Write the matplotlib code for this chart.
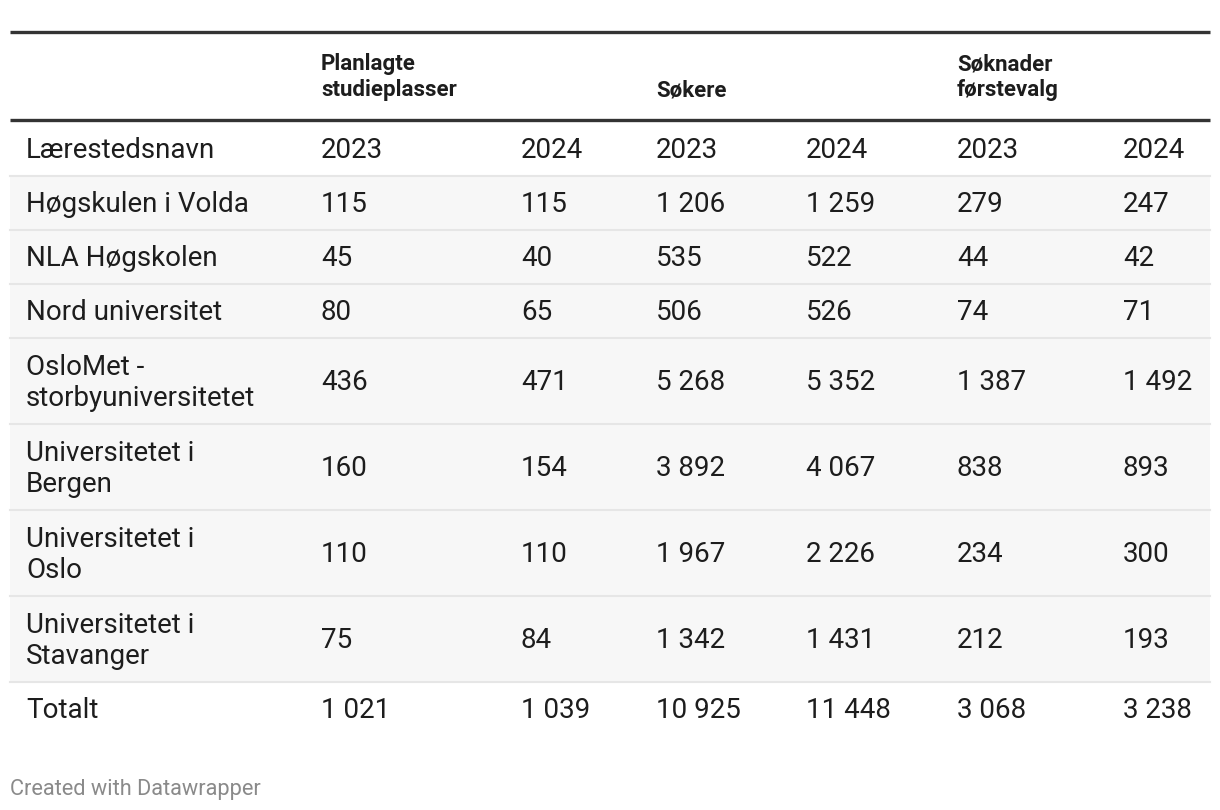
import matplotlib
matplotlib.use("Agg")
import matplotlib.pyplot as plt
from matplotlib.patches import Rectangle

plt.rcParams['font.family'] = ['Roboto', 'DejaVu Sans']

# table content
group_labels = ["Planlagte\nstudieplasser", "Søkere", "Søknader\nførstevalg"]
year_labels = ["2023", "2024", "2023", "2024", "2023", "2024"]
first_col = "Lærestedsnavn"
schools = ["Høgskulen i Volda", "NLA Høgskolen", "Nord universitet",
           "OsloMet -\nstorbyuniversitetet", "Universitetet i\nBergen",
           "Universitetet i\nOslo", "Universitetet i\nStavanger"]
plan_2023 = [115, 45, 80, 436, 160, 110, 75]
plan_2024 = [115, 40, 65, 471, 154, 110, 84]
sokere_2023 = [1206, 535, 506, 5268, 3892, 1967, 1342]
sokere_2024 = [1259, 522, 526, 5352, 4067, 2226, 1431]
forste_2023 = [279, 44, 74, 1387, 838, 234, 212]
forste_2024 = [247, 42, 71, 1492, 893, 300, 193]
totals = [1021, 1039, 10925, 11448, 3068, 3238]

W, H = 1220, 810
fig = plt.figure(figsize=(W / 100, H / 100), dpi=100)
ax = fig.add_axes([0, 0, 1, 1])
ax.set_xlim(0, W)
ax.set_ylim(H, 0)
ax.axis('off')


def fmt(v):
    return f"{v:,}".replace(",", " ")


col_x = [26, 321, 521, 656, 806, 957, 1123]
left, right = 10, 1210
fs = 20
dark = "#1d1d1d"

# header
ax.plot([left, right], [32, 32], color="#333333", lw=2.4, solid_capstyle='butt')
for i, lab in enumerate(group_labels):
    ax.text(col_x[1 + 2 * i], 96, lab, fontsize=16, fontweight='bold',
            color=dark, va='baseline', ha='left', linespacing=1.22)
ax.plot([left, right], [120, 120], color="#333333", lw=2.4, solid_capstyle='butt')

# rows
columns = [plan_2023, plan_2024, sokere_2023, sokere_2024, forste_2023, forste_2024]
rows = [(first_col, year_labels, False)]
for k, name in enumerate(schools):
    rows.append((name, [fmt(c[k]) for c in columns], True))
rows.append(("Totalt", [fmt(v) for v in totals], False))

y = 122
for name, vals, shaded in rows:
    h = 54 if "\n" not in name else 86
    if shaded:
        ax.add_patch(Rectangle((left, y), right - left, h, facecolor="#f7f7f7",
                               edgecolor='none', zorder=0))
    cy = y + h / 2 + 2
    ax.text(col_x[0], cy, name, fontsize=fs, color=dark, va='center',
            ha='left', linespacing=1.23)
    for x, v in zip(col_x[1:], vals):
        ax.text(x, cy, v, fontsize=fs, color=dark, va='center', ha='left')
    y += h
    if name != "Totalt":
        ax.plot([left, right], [y, y], color="#e6e6e6", lw=1.5, zorder=1)

ax.text(10, 789, "Created with Datawrapper", fontsize=15.7, color="#8a8a8a",
        va='center', ha='left')

fig.savefig("out.png", dpi=100, facecolor="white")
